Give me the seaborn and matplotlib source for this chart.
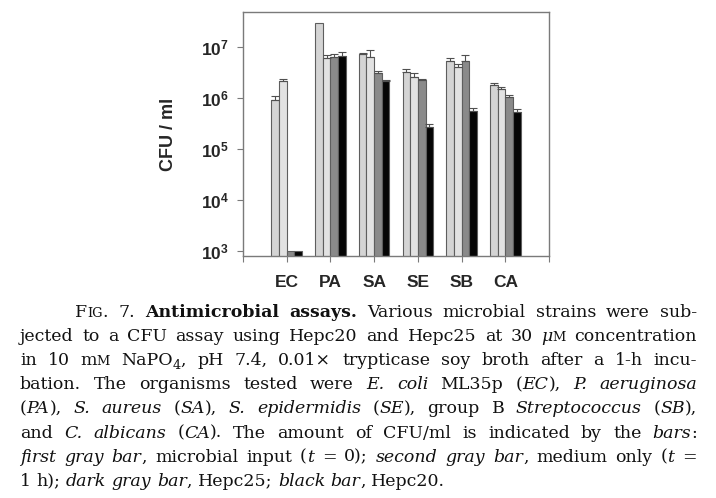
import numpy as np
import pandas as pd
import matplotlib
matplotlib.use("Agg")
import matplotlib.pyplot as plt
from matplotlib.ticker import NullLocator
import seaborn as sns

# values (CFU / ml), upper error bar as sd
categories = ["EC", "PA", "SA", "SE", "SB", "CA"]
series_names = ["Input (t = 0)", "Medium only (t = 1 h)", "Hepc25", "Hepc20"]
input_t0 = [9.2e5, 2.95e7, 7.3e6, 3.2e6, 5.3e6, 1.8e6]
medium_1h = [2.15e6, 6.1e6, 6.3e6, 2.6e6, 4.1e6, 1.5e6]
hepc25 = [1.0e3, 6.3e6, 3.1e6, 2.25e6, 5.4e6, 1.05e6]
hepc20 = [1.0e3, 6.6e6, 2.2e6, 2.7e5, 5.6e5, 5.3e5]
input_sd = [1.8e5, 0, 2e5, 5e5, 8e5, 2e5]
medium_sd = [2.5e5, 8e5, 2.4e6, 5e5, 5e5, 1.5e5]
hepc25_sd = [0, 1.0e6, 3e5, 1e5, 1.5e6, 1e5]
hepc20_sd = [0, 1.4e6, 1e5, 4e4, 7e4, 8e4]

bar_colors = ["#d4d4d4", "#e2e2e2", "#8a8a8a", "#050505"]
ytick_vals = [1e3, 1e4, 1e5, 1e6, 1e7]
ytick_labels = [r"$\mathbf{10^{3}}$", r"$\mathbf{10^{4}}$", r"$\mathbf{10^{5}}$",
                r"$\mathbf{10^{6}}$", r"$\mathbf{10^{7}}$"]

# caption: list of lines, each a list of (text, style)
caption = [
    [("F", "r"), ("IG", "sc"), (". 7. ", "r"), ("Antimicrobial assays.", "b"),
     (" Various microbial strains were sub-", "r")],
    [("jected to a CFU assay using Hepc20 and Hepc25 at 30 ", "r"), ("\u03bc", "i"),
     ("M", "sc"), (" concentration", "r")],
    [("in 10 m", "r"), ("M", "sc"), (" NaPO", "r"), ("4", "sub"),
     (", pH 7.4, 0.01\u00d7 trypticase soy broth after a 1-h incu-", "r")],
    [("bation. The organisms tested were ", "r"), ("E. coli", "i"), (" ML35p (", "r"),
     ("EC", "i"), ("), ", "r"), ("P. aeruginosa", "i")],
    [("(", "r"), ("PA", "i"), ("), ", "r"), ("S. aureus", "i"), (" (", "r"), ("SA", "i"),
     ("), ", "r"), ("S. epidermidis", "i"), (" (", "r"), ("SE", "i"), ("), group B ", "r"),
     ("Streptococcus", "i"), (" (", "r"), ("SB", "i"), ("),", "r")],
    [("and ", "r"), ("C. albicans", "i"), (" (", "r"), ("CA", "i"),
     ("). The amount of CFU/ml is indicated by the ", "r"), ("bars", "i"), (":", "r")],
    [("first gray bar", "i"), (", microbial input (", "r"), ("t", "i"), (" = 0); ", "r"),
     ("second gray bar", "i"), (", medium only (", "r"), ("t", "i"), (" =", "r")],
    [("1 h); ", "r"), ("dark gray bar", "i"), (", Hepc25; ", "r"), ("black bar", "i"),
     (", Hepc20.", "r")],
]

rows = []
for name, vals, sds in zip(series_names, [input_t0, medium_1h, hepc25, hepc20],
                           [input_sd, medium_sd, hepc25_sd, hepc20_sd]):
    for c, v, s in zip(categories, vals, sds):
        rows.append({"strain": c, "series": name, "cfu": v, "sd": s})
df = pd.DataFrame(rows)

sns.set_theme(style="ticks")
plt.rcParams["font.family"] = ["Liberation Sans", "DejaVu Sans"]
plt.rcParams["mathtext.fontset"] = "custom"
plt.rcParams["mathtext.bf"] = "Liberation Sans:bold"
plt.rcParams["mathtext.rm"] = "Liberation Sans"

W, H = 716, 498
fig = plt.figure(figsize=(W / 100, H / 100), dpi=100)
ax = fig.add_axes([243 / W, 1 - 256 / H, (549 - 243) / W, (256 - 12) / H])

sns.barplot(data=df, x="strain", y="cfu", hue="series", order=categories,
            hue_order=series_names, palette=bar_colors, width=0.7, gap=0,
            errorbar=None, edgecolor="#5e5e5e", linewidth=0.8, legend=False,
            saturation=1, ax=ax)
ax.set_yscale("log")

for cont, name in zip(ax.containers, series_names):
    sub = df[df["series"] == name].set_index("strain").loc[categories]
    xs = np.array([p.get_x() + p.get_width() / 2 for p in cont.patches])
    keep = sub["sd"].values > 0
    ax.errorbar(xs[keep], sub["cfu"].values[keep],
                yerr=[np.zeros(keep.sum()), sub["sd"].values[keep]],
                fmt="none", ecolor="#505050", elinewidth=0.8, capsize=3, capthick=0.8)

ax.set_xlim(-1, 6)
ax.set_xticks(range(-1, 7))
ax.set_xticklabels([""] + categories + [""], fontsize=12.5, fontweight="bold")
ax.set_ylim(10 ** 2.902, 10 ** 7.686)
ax.set_yticks(ytick_vals)
ax.set_yticklabels(ytick_labels, fontsize=12.5)
ax.yaxis.set_minor_locator(NullLocator())
ax.tick_params(axis="both", direction="out", length=4, width=0.8, color="#7a7a7a")
ax.tick_params(axis="x", pad=10)
ax.tick_params(axis="y", pad=6)
for sp in ax.spines.values():
    sp.set_visible(True)
    sp.set_color("#7a7a7a")
    sp.set_linewidth(1)
ax.set_xlabel("")
ax.set_ylabel("CFU / ml", fontsize=13, fontweight="bold")
ax.yaxis.set_label_coords(-0.216, 0.5)

# caption, justified line by line
cap_size = 12.5
cap_px = cap_size * 100 / 72
renderer = fig.canvas.get_renderer()


def piece_text(s, style):
    kw = dict(family="DejaVu Serif", fontsize=cap_size, va="baseline", ha="left",
              color="#111111")
    if style == "i":
        kw["style"] = "italic"
    elif style == "b":
        kw["weight"] = "bold"
    elif style in ("sc", "sub"):
        kw["fontsize"] = cap_size * 0.75
    return fig.text(0, 0, s, **kw)


def tokens_of(line):
    tokens, cur = [], []
    for text, style in line:
        parts = text.split(" ")
        for i, part in enumerate(parts):
            if i > 0 and cur:
                tokens.append(cur)
                cur = []
            if part:
                cur.append((part, style))
    if cur:
        tokens.append(cur)
    return tokens


left, right = 20, 697
baseline0, line_gap = 317, 24.1
for li, line in enumerate(caption):
    x0 = 75 if li == 0 else left
    y = baseline0 + li * line_gap
    toks = []
    for tok in tokens_of(line):
        items = []
        for s, style in tok:
            t = piece_text(s, style)
            w = t.get_window_extent(renderer).width
            items.append((t, w, style))
        toks.append(items)
    tok_w = [sum(w for _, w, _ in items) for items in toks]
    if li < len(caption) - 1:
        gap = (right - x0 - sum(tok_w)) / (len(toks) - 1)
    else:
        gap = 0.32 * cap_px
    x = x0
    for items, tw in zip(toks, tok_w):
        for t, w, style in items:
            dy = 4 if style == "sub" else 0
            t.set_position((x / W, 1 - (y + dy) / H))
            x += w
        x += gap

fig.savefig("out.png", dpi=100)
